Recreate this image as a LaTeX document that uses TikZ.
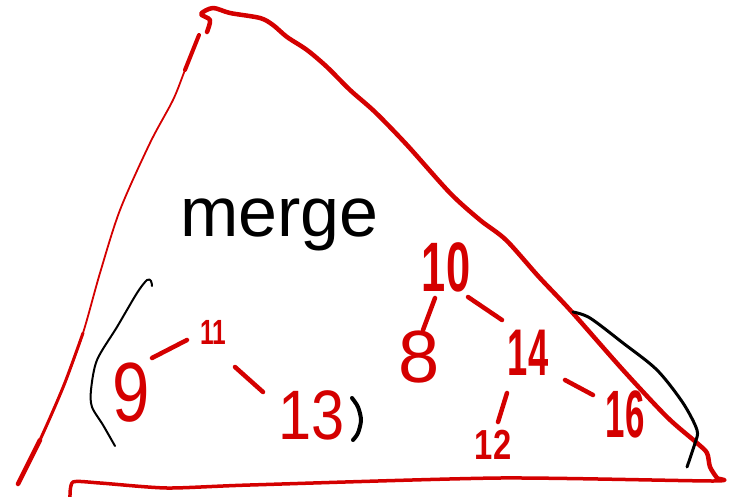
\documentclass[tikz,border=0pt]{standalone}
\usepackage{fontspec}
\setmainfont{Liberation Sans}
\usetikzlibrary{calc}
\definecolor{pen}{RGB}{212,0,0}
\begin{document}
\begin{tikzpicture}[x=1pt,y=-1pt,line cap=round,line join=round,
  redline/.style={draw=pen,line width=4.5pt},
  thinred/.style={draw=pen,line width=1.8pt},
  ink/.style={draw=black,line width=2pt},
  num/.style={text=pen,inner sep=0pt},
  stroke/.style={draw=pen,line width=4.5pt}]
\useasboundingbox (0,0) rectangle (735,497);
% triangle outline
\draw[redline] plot[smooth,tension=0.5] coordinates {(207,32) (210,20) (201,14) (213,8) (230,13) (260,18) (273,25) (287,37) (307,50) (327,67) (350,90) (375,112) (407,145) (450,193) (480,220) (506,240) (539,277) (571,311) (623,370) (667,417) (697,443) (707,453) (710,467) (717,478)};
\draw[draw=pen,line width=3.5pt] plot[smooth,tension=0.4] coordinates {(717,478) (713,481) (500,478) (250,485) (167,488) (100,483) (73,482) (70,497)};
\draw[thinred] plot[smooth,tension=0.5] coordinates {(199,35) (185,70) (173,100) (150,143) (120,210) (100,273) (83,333) (64,385) (40,440) (18,484)};
\draw[draw=pen,line width=4pt] (199,35) -- (185,70);
\draw[draw=pen,line width=3pt] plot[smooth,tension=0.5] coordinates {(83,333) (64,385) (40,440) (18,484)};
\draw[draw=pen,line width=4.5pt] (40,440) -- (18,484);
% merge
\node[font=\fontsize{70}{70}\selectfont,anchor=base west,inner sep=0pt] (merge) at (180,236) {merge};
% left tree
\node[num,font=\fontsize{84}{84}\selectfont,xscale=0.8] (n9) at (131,393) {9};
\node[num,font=\fontsize{35}{35}\selectfont\bfseries,xscale=0.7] (n11) at (213,332) {11};
\node[num,font=\fontsize{70}{70}\selectfont,xscale=0.85] (n13) at (312,415) {13};
\draw[stroke] ($(n9)+(21,-35)$) -- ($(n11)+(-26,8)$);
\draw[stroke] ($(n11)+(22,35)$) -- ($(n13)+(-49,-23)$);
% right tree
\node[num,font=\fontsize{70}{70}\selectfont\bfseries,xscale=0.62] (n10) at (446,267) {10};
\node[num,font=\fontsize{74}{74}\selectfont] (n8) at (419,357) {8};
\node[num,font=\fontsize{66}{66}\selectfont\bfseries,xscale=0.55] (n14) at (528,353) {14};
\node[num,font=\fontsize{42}{42}\selectfont\bfseries,xscale=0.78] (n12) at (493,445) {12};
\node[num,font=\fontsize{67}{67}\selectfont\bfseries,xscale=0.52] (n16) at (625,414) {16};
\draw[stroke] ($(n10)+(-11,31)$) -- ($(n8)+(4,-27)$);
\draw[stroke] ($(n10)+(22,30)$) -- ($(n14)+(-26,-33)$);
\draw[stroke] ($(n14)+(-21,40)$) -- ($(n12)+(5,-23)$);
\draw[stroke] ($(n14)+(37,27)$) -- ($(n16)+(-32,-19)$);
% black brackets
\draw[ink] plot[smooth,tension=0.5] coordinates {(152,286) (151,281) (147,280) (137,293) (117,327) (97,360) (91,390) (92,407) (103,425) (115,446)};
\draw[draw=black,line width=4pt] plot[smooth] coordinates {(352,398) (358,407) (361,420) (358,433) (353,440)};
\draw[draw=black,line width=3pt] plot[smooth,tension=0.5] coordinates {(573,312) (590,318) (623,343) (657,370) (683,403) (697,430) (695,443) (687,467)};
\end{tikzpicture}
\end{document}
